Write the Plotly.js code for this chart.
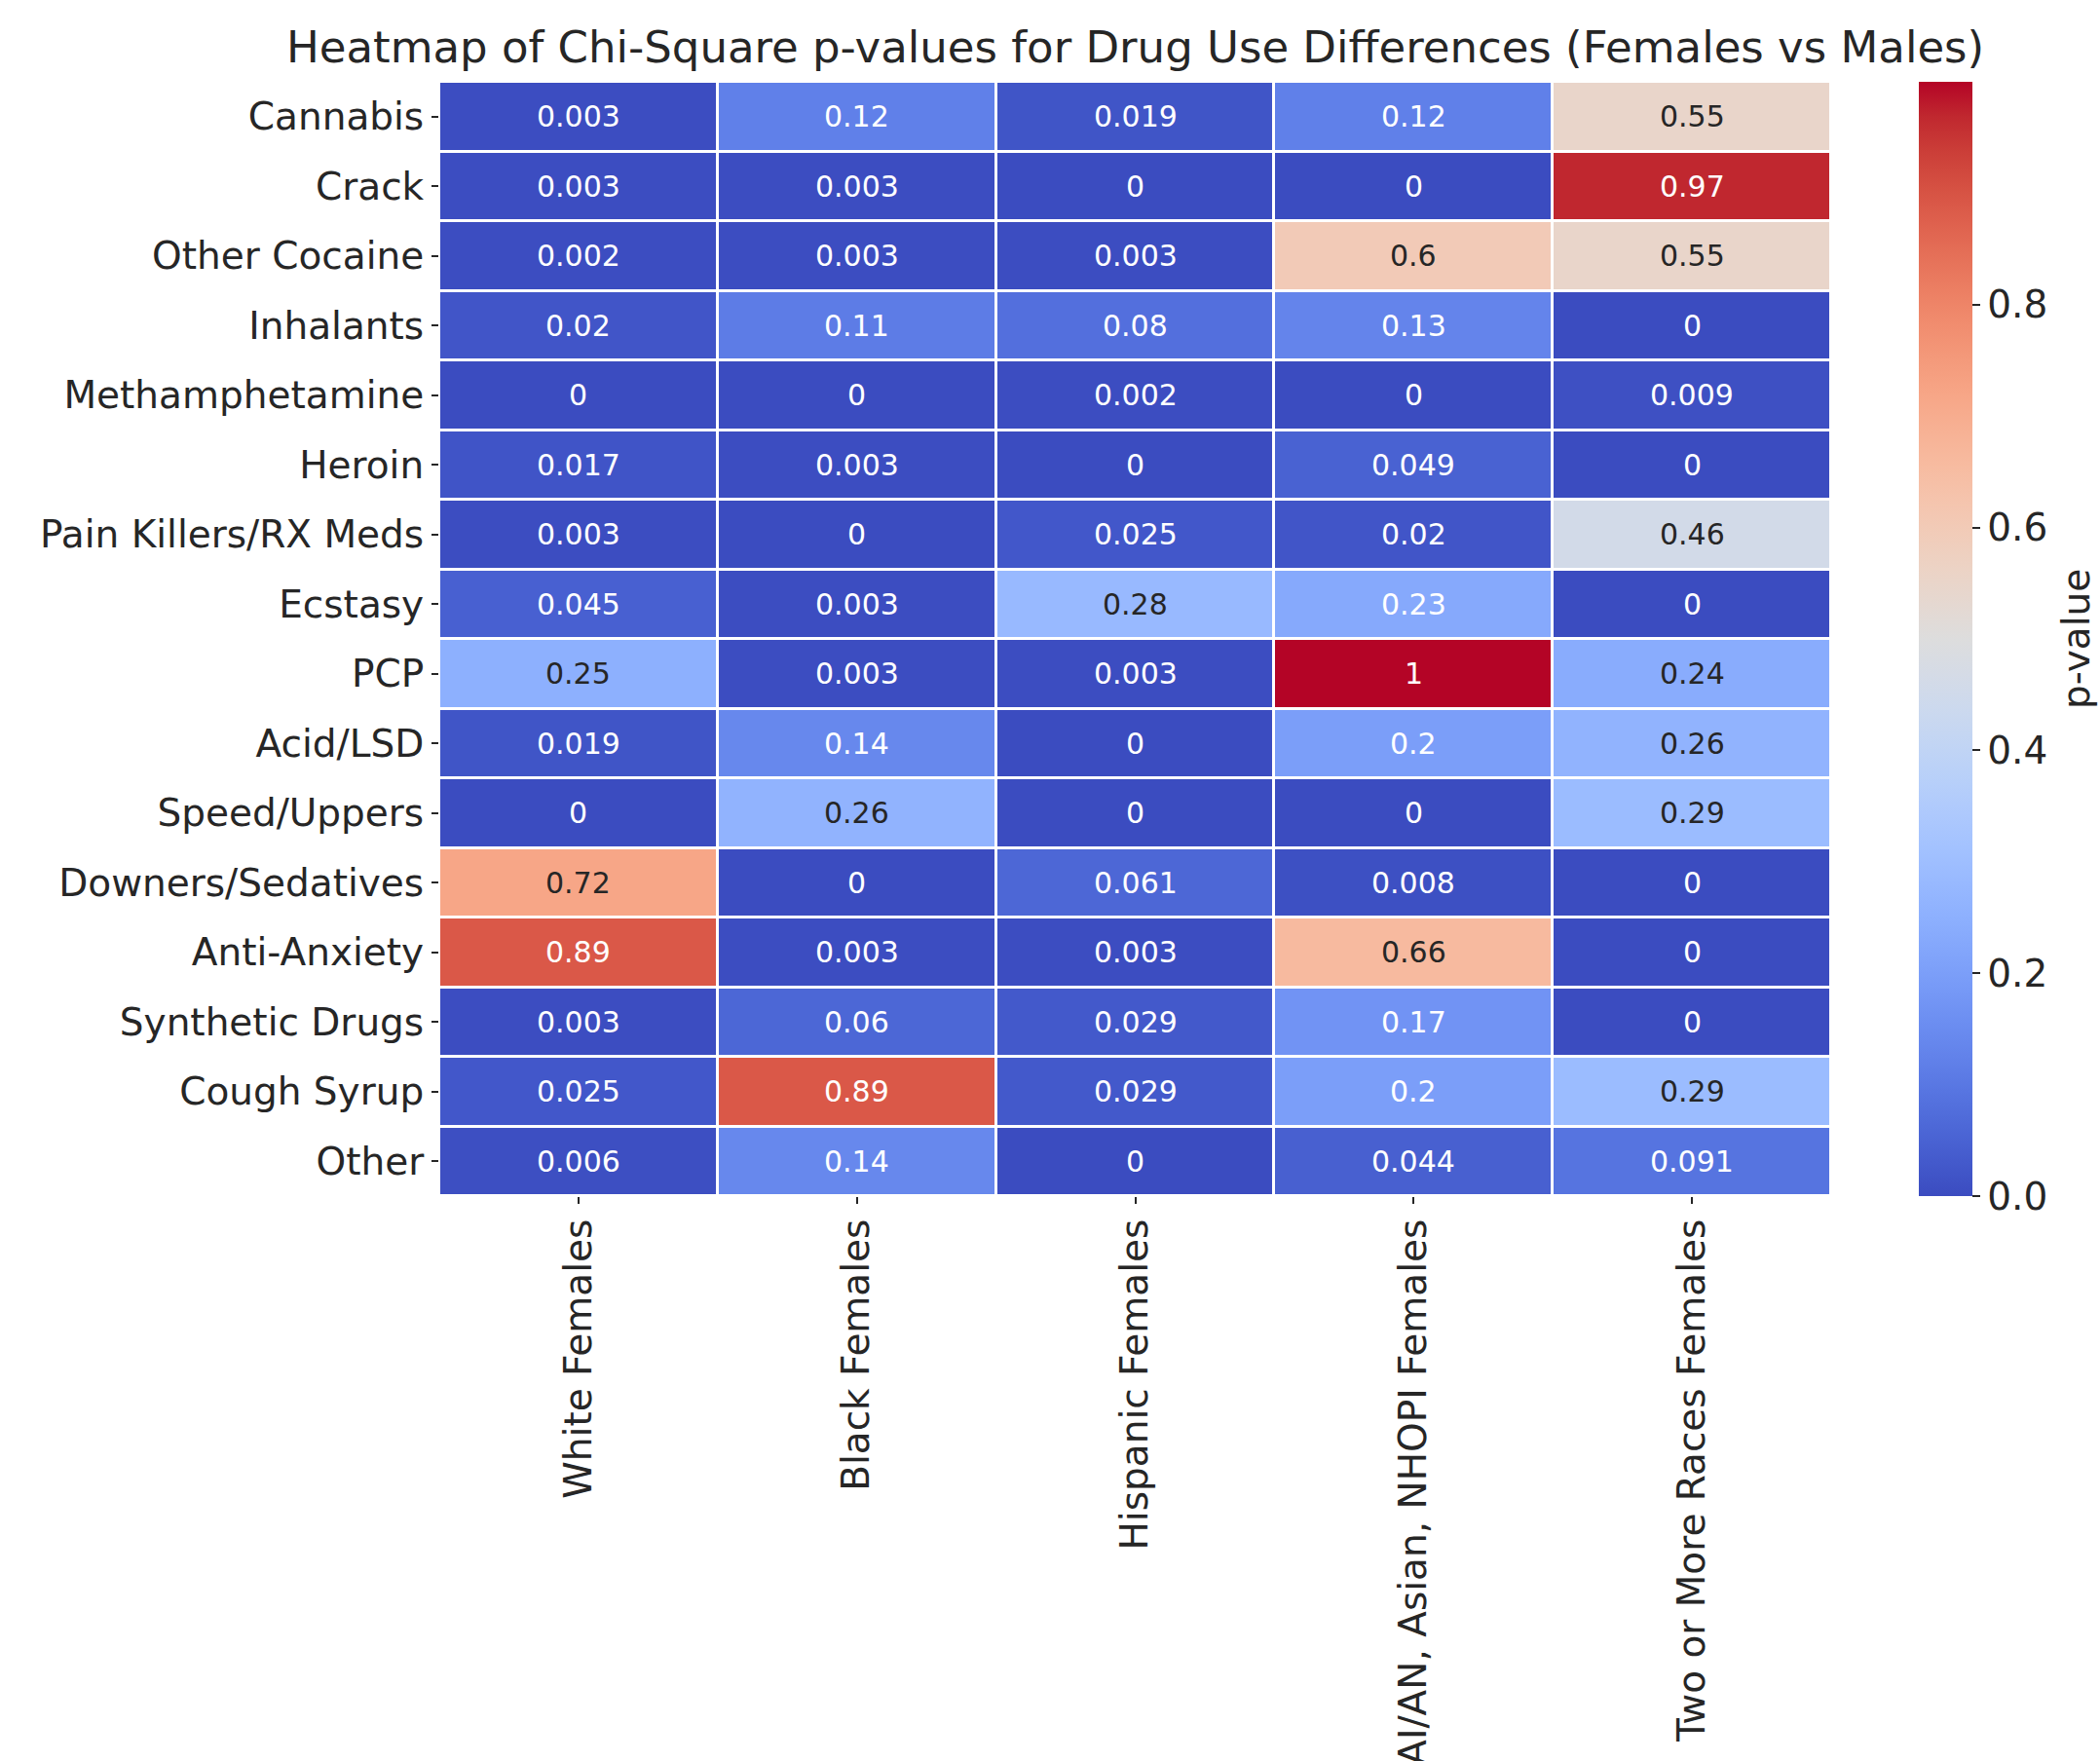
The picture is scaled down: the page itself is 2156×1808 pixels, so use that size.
<!DOCTYPE html>
<html>
<head>
<meta charset="utf-8">
<script src="https://cdn.plot.ly/plotly-3.0.1.min.js"></script>
<style>html,body{margin:0;padding:0;background:#fff;}#chart{width:2156px;height:1808px;}</style>
</head>
<body>
<div id="chart"></div>
<script>
// ---- data ----
const drugs = ["Cannabis","Crack","Other Cocaine","Inhalants","Methamphetamine","Heroin",
  "Pain Killers/RX Meds","Ecstasy","PCP","Acid/LSD","Speed/Uppers","Downers/Sedatives",
  "Anti-Anxiety","Synthetic Drugs","Cough Syrup","Other"];
const groups = ["White Females","Black Females","Hispanic Females",
  "AI/AN, Asian, NHOPI Females","Two or More Races Females"];

const cannabis       = [0.003, 0.12, 0.019, 0.12, 0.55];
const crack          = [0.003, 0.003, 0, 0, 0.97];
const otherCocaine   = [0.002, 0.003, 0.003, 0.6, 0.55];
const inhalants      = [0.02, 0.11, 0.08, 0.13, 0];
const meth           = [0, 0, 0.002, 0, 0.009];
const heroin         = [0.017, 0.003, 0, 0.049, 0];
const painKillers    = [0.003, 0, 0.025, 0.02, 0.46];
const ecstasy        = [0.045, 0.003, 0.28, 0.23, 0];
const pcp            = [0.25, 0.003, 0.003, 1, 0.24];
const acidLsd        = [0.019, 0.14, 0, 0.2, 0.26];
const speedUppers    = [0, 0.26, 0, 0, 0.29];
const downers        = [0.72, 0, 0.061, 0.008, 0];
const antiAnxiety    = [0.89, 0.003, 0.003, 0.66, 0];
const synthetic      = [0.003, 0.06, 0.029, 0.17, 0];
const coughSyrup     = [0.025, 0.89, 0.029, 0.2, 0.29];
const otherDrugs     = [0.006, 0.14, 0, 0.044, 0.091];

const z = [cannabis, crack, otherCocaine, inhalants, meth, heroin, painKillers, ecstasy,
  pcp, acidLsd, speedUppers, downers, antiAnxiety, synthetic, coughSyrup, otherDrugs];

const cbTicks = [0, 0.2, 0.4, 0.6, 0.8];
const cbTickText = ["0.0","0.2","0.4","0.6","0.8"];

// ---- coolwarm colormap (Moreland) ----
const cw = [[59,76,192],[68,90,204],[77,104,215],[87,117,225],[98,130,234],[108,142,241],
  [119,154,247],[130,165,251],[141,176,254],[152,185,255],[163,194,255],[174,201,253],
  [184,208,249],[194,213,244],[204,217,238],[213,219,230],[221,221,221],[229,216,209],
  [236,211,197],[241,204,185],[245,196,173],[247,187,160],[247,177,148],[247,166,135],
  [244,154,123],[241,141,111],[236,127,99],[229,112,88],[222,96,77],[213,80,66],
  [203,62,56],[192,40,47],[180,4,38]];
const colorscale = cw.map((c,i)=>[i/(cw.length-1), `rgb(${c[0]},${c[1]},${c[2]})`]);

const zmin = 0;
const zmax = Math.max(...z.flat());

function colorAt(v){
  const t = Math.max(0, Math.min(1, (v - zmin)/(zmax - zmin))) * (cw.length-1);
  const i = Math.min(cw.length-2, Math.floor(t));
  const f = t - i;
  return cw[i].map((a,k)=>a + (cw[i+1][k]-a)*f);
}
function lum(rgb){
  const lin = rgb.map(c=>{c/=255; return c<=0.03928 ? c/12.92 : Math.pow((c+0.055)/1.055,2.4);});
  return 0.2126*lin[0]+0.7152*lin[1]+0.0722*lin[2];
}

const FONT = "DejaVu Sans, Noto Sans, sans-serif";
const DARK = "#262626";

const annotations = [];
z.forEach((row,r)=>row.forEach((v,c)=>{
  annotations.push({
    x: groups[c], y: drugs[r], xref:'x', yref:'y',
    text: String(v), showarrow:false,
    font:{family:FONT, size:30, color: lum(colorAt(v)) > 0.408 ? DARK : "#ffffff"}
  });
}));
annotations.push({
  text:'p-value', xref:'paper', yref:'paper', x:(2131-451)/1429, y:0.5,
  xanchor:'center', yanchor:'middle', textangle:-90, showarrow:false,
  font:{family:FONT, size:39, color:DARK}
});

const trace = {
  type:'heatmap',
  x: groups, y: drugs, z: z,
  zmin: zmin, zmax: zmax,
  colorscale: colorscale,
  xgap: 3, ygap: 3,
  hoverongaps:false,
  colorbar:{
    x: 1.063, xanchor:'left', xref:'paper',
    y: 0.5, yanchor:'middle', len:1, lenmode:'fraction',
    thickness:55, thicknessmode:'pixels',
    xpad:0, ypad:0, outlinewidth:0,
    tickmode:'array', tickvals:cbTicks, ticktext:cbTickText,
    ticks:'outside', ticklen:8, tickwidth:2, tickcolor:DARK,
    tickfont:{family:FONT, size:39, color:DARK}
  }
};

const layout = {
  width:2156, height:1808, autosize:false,
  paper_bgcolor:'#ffffff', plot_bgcolor:'#ffffff',
  margin:{l:451, r:276, t:84, b:580, pad:0},
  title:{text:'Heatmap of Chi-Square p-values for Drug Use Differences (Females vs Males)',
    x:0.5, xref:'paper', xanchor:'center', y:1-48/1808, yref:'container', yanchor:'middle',
    font:{family:FONT, size:45, color:DARK}},
  xaxis:{type:'category', automargin:false, tickangle:-90, showgrid:false, zeroline:false,
    ticks:'outside', ticklen:7, tickwidth:2, tickcolor:DARK, showline:false,
    tickfont:{family:FONT, size:39, color:DARK}, ticklabelstandoff:0},
  yaxis:{type:'category', automargin:false, autorange:'reversed', showgrid:false, zeroline:false,
    ticks:'outside', ticklen:7, tickwidth:2, tickcolor:DARK, showline:false,
    tickfont:{family:FONT, size:39, color:DARK}, ticklabelstandoff:0},
  annotations: annotations
};

Plotly.newPlot('chart', [trace], layout, {displayModeBar:false, staticPlot:true});
</script>
</body>
</html>
